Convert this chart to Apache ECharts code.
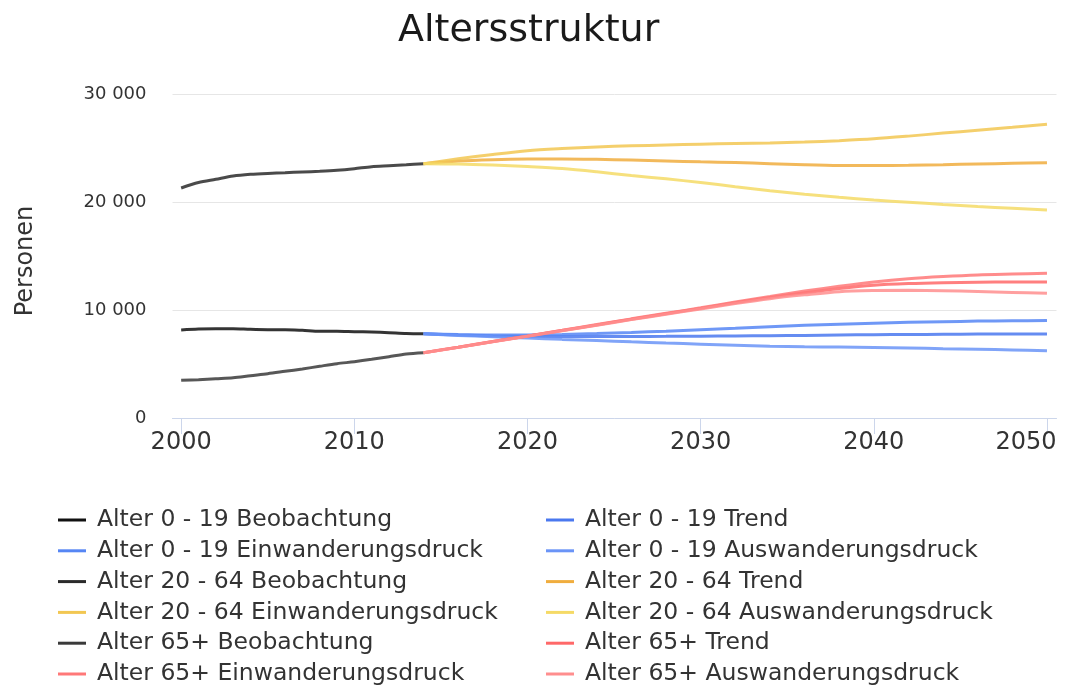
<!DOCTYPE html>
<html>
<head>
<meta charset="utf-8">
<title>Altersstruktur</title>
<script src="https://cdn.jsdelivr.net/npm/echarts@6/dist/echarts.min.js"></script>
<style>
  html, body { margin: 0; padding: 0; background: #ffffff; }
  #chart { width: 1068px; height: 688px; }
</style>
</head>
<body>
<div id="chart"></div>
<script>
// Observed years and projection years
const obsYears = [2000, 2001, 2002, 2003, 2004, 2005, 2006, 2007, 2008, 2009, 2010, 2011, 2012, 2013, 2014];
const projYears = [2014, 2016, 2018, 2020, 2022, 2024, 2026, 2028, 2030, 2032, 2034, 2036, 2038, 2040, 2042, 2044, 2046, 2048, 2050];
const xTicks = [2000, 2010, 2020, 2030, 2040, 2050];

// Alter 0 - 19
const young_obs   = [8150, 8240, 8270, 8270, 8210, 8180, 8180, 8120, 8030, 8030, 7990, 7960, 7900, 7830, 7800];
const young_trend = [7800, 7680, 7600, 7560, 7540, 7540, 7550, 7560, 7580, 7600, 7620, 7650, 7690, 7710, 7730, 7750, 7770, 7780, 7780];
const young_ein   = [7800, 7720, 7680, 7690, 7740, 7820, 7920, 8040, 8170, 8300, 8450, 8580, 8690, 8780, 8860, 8920, 8970, 9000, 9020];
const young_aus   = [7800, 7650, 7520, 7400, 7280, 7170, 7050, 6940, 6840, 6740, 6650, 6600, 6570, 6530, 6480, 6420, 6370, 6300, 6230];

// Alter 20 - 64
const adult_obs   = [21300, 21800, 22100, 22400, 22560, 22650, 22710, 22780, 22840, 22930, 23080, 23270, 23360, 23450, 23550];
const adult_trend = [23550, 23800, 23920, 23980, 23990, 23950, 23880, 23800, 23720, 23650, 23550, 23450, 23380, 23370, 23400, 23450, 23520, 23580, 23640];
const adult_ein   = [23550, 24000, 24400, 24750, 24950, 25100, 25200, 25280, 25350, 25420, 25460, 25550, 25680, 25850, 26100, 26380, 26650, 26920, 27200];
const adult_aus   = [23550, 23520, 23420, 23280, 23100, 22800, 22450, 22150, 21800, 21420, 21050, 20720, 20430, 20180, 19980, 19770, 19580, 19420, 19260];

// Alter 65+
const senior_obs   = [3490, 3550, 3640, 3730, 3920, 4100, 4320, 4540, 4790, 5030, 5210, 5430, 5680, 5930, 6050];
const senior_trend = [6050, 6550, 7080, 7580, 8100, 8620, 9150, 9650, 10150, 10680, 11150, 11600, 12000, 12300, 12450, 12530, 12570, 12590, 12600];
const senior_ein   = [6050, 6560, 7090, 7600, 8120, 8650, 9180, 9690, 10200, 10750, 11250, 11750, 12200, 12600, 12900, 13100, 13250, 13330, 13400];
const senior_aus   = [6050, 6540, 7060, 7560, 8080, 8590, 9110, 9610, 10100, 10600, 11050, 11400, 11700, 11800, 11820, 11790, 11720, 11630, 11540];

const FONT = '"DejaVu Sans", Verdana, sans-serif';
const TEXT = '#333333';

function pairs(years, values) {
  return years.map((y, i) => [y, values[i]]);
}

function line(name, years, values, color) {
  return {
    name: name,
    type: 'line',
    data: pairs(years, values),
    smooth: 0.3,
    showSymbol: false,
    symbol: 'none',
    color: color,
    lineStyle: { width: 3, color: color, opacity: 0.85 },
    emphasis: { disabled: true }
  };
}

const series = [
  line('Alter 0 - 19 Beobachtung', obsYears, young_obs, '#111111'),
  line('Alter 0 - 19 Trend', projYears, young_trend, '#4a78ef'),
  line('Alter 0 - 19 Einwanderungsdruck', projYears, young_ein, '#5686f4'),
  line('Alter 0 - 19 Auswanderungsdruck', projYears, young_aus, '#6a94f7'),
  line('Alter 20 - 64 Beobachtung', obsYears, adult_obs, '#2a2a2a'),
  line('Alter 20 - 64 Trend', projYears, adult_trend, '#f0ad3e'),
  line('Alter 20 - 64 Einwanderungsdruck', projYears, adult_ein, '#f2c752'),
  line('Alter 20 - 64 Auswanderungsdruck', projYears, adult_aus, '#f5da66'),
  line('Alter 65+ Beobachtung', obsYears, senior_obs, '#3a3a3a'),
  line('Alter 65+ Trend', projYears, senior_trend, '#ff6868'),
  line('Alter 65+ Einwanderungsdruck', projYears, senior_ein, '#ff7878'),
  line('Alter 65+ Auswanderungsdruck', projYears, senior_aus, '#ff8e8e')
];

// Two legend columns: observation / immigration on the left, trend / emigration on the right
const leftNames = series.filter((s, i) => i % 4 === 0 || i % 4 === 2).map(s => s.name);
const rightNames = series.filter((s, i) => i % 4 === 1 || i % 4 === 3).map(s => s.name);

function legend(names, left) {
  return {
    data: names,
    orient: 'vertical',
    left: left,
    top: 508,
    height: 200,
    padding: 0,
    icon: 'rect',
    itemWidth: 28,
    itemHeight: 3,
    itemGap: 6.8,
    selectedMode: false,
    textStyle: { fontFamily: FONT, fontSize: 23.5, color: TEXT, lineHeight: 24, padding: [0, 0, 0, 6] }
  };
}

const lastTick = xTicks[xTicks.length - 1];

const chart = echarts.init(document.getElementById('chart'), null, { renderer: 'canvas' });
chart.setOption({
  backgroundColor: '#ffffff',
  animation: false,
  title: {
    text: 'Altersstruktur',
    left: 393,
    top: 7,
    textStyle: { fontFamily: FONT, fontSize: 38, fontWeight: 'normal', color: '#1a1a1a' }
  },
  legend: [legend(leftNames, 58), legend(rightNames, 546)],
  grid: { left: 172.5, right: 11.5, top: 94, bottom: 270, containLabel: false, outerBoundsMode: 'none' },
  xAxis: {
    type: 'value',
    min: 1999.5,
    max: 2050.55,
    axisLine: { show: true, lineStyle: { color: '#ccd6eb', width: 1 } },
    axisTick: { show: true, length: 16, lineStyle: { color: '#ccd6eb' }, customValues: xTicks },
    axisLabel: {
      fontFamily: FONT, fontSize: 24, color: TEXT, margin: 13, customValues: xTicks,
      // the last year label is nudged inwards so it stays inside the canvas
      formatter: v => (v === lastTick ? '{edge|' + v + '}' : String(v)),
      rich: { edge: { fontFamily: FONT, fontSize: 24, color: TEXT, padding: [0, 42, 0, 0] } }
    },
    splitLine: { show: false }
  },
  yAxis: {
    type: 'value',
    min: 0,
    max: 30000,
    interval: 10000,
    name: 'Personen',
    nameLocation: 'middle',
    nameGap: 135,
    nameRotate: 90,
    nameTextStyle: { fontFamily: FONT, fontSize: 24, color: TEXT, padding: [0, 10, 0, 0] },
    axisLine: { show: false },
    axisTick: { show: false },
    axisLabel: { fontFamily: FONT, fontSize: 18, color: TEXT, margin: 26,
                 formatter: v => String(v).replace(/\B(?=(\d{3})+(?!\d))/g, ' ') },
    splitLine: { lineStyle: { color: '#e6e6e6', width: 1 } }
  },
  series: series
});
</script>
</body>
</html>
